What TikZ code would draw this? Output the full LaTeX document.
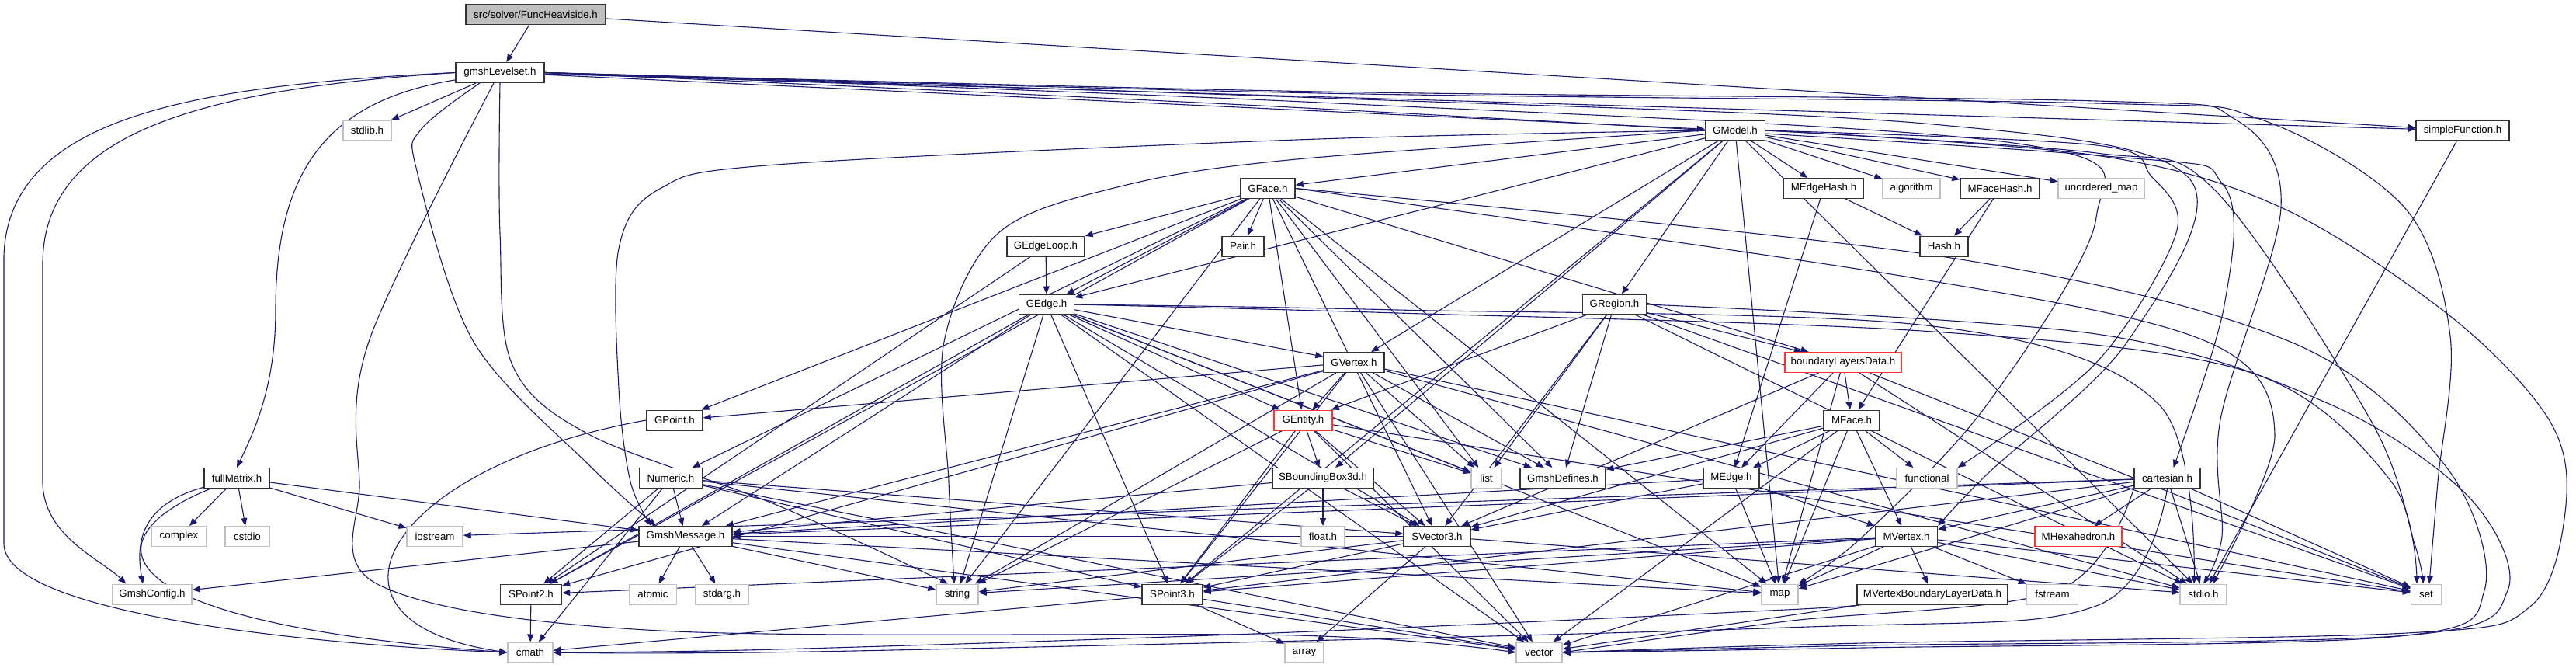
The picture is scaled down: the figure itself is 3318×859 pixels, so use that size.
\documentclass[tikz,border=0pt]{standalone}
\usepackage{fontspec}
\setmainfont{Liberation Sans}
\usetikzlibrary{arrows.meta}
\definecolor{eblue}{HTML}{191970}
\definecolor{gbord}{HTML}{BFBFBF}
\definecolor{rbord}{HTML}{FF3333}
\pgfdeclarelayer{bg}
\pgfdeclarelayer{canvas}
\pgfsetlayers{canvas,bg,main}
\begin{document}
\begin{tikzpicture}[x=1pt,y=-1pt,
 base/.style={rectangle, minimum height=25.6pt, inner sep=0pt, font=\fontsize{13.3}{15}\selectfont, line width=1.4pt, fill=white},
 nb/.style={base, draw=black!80},
 ng/.style={base, draw=gbord},
 nr/.style={base, draw=rbord},
 nroot/.style={base, draw=black!80, fill=gbord},
 e/.style={draw=eblue, line width=1.1pt, -{Triangle[length=10pt,width=8pt]}},
 cv/.style={e, smooth, tension=0.55},
]
\begin{pgfonlayer}{canvas}
\fill[white] (0,0) rectangle (3318,859);
\end{pgfonlayer}
\useasboundingbox (0,0) rectangle (3318,859);
% nodes
\node[nroot, minimum width=180pt] (root) at (690,18.5) {src/solver/FuncHeaviside.h};
\node[nb, minimum width=114pt] (gl) at (644,93.5) {gmshLevelset.h};
\node[ng, minimum width=62pt] (stdlib) at (473,168) {stdlib.h};
\node[nb, minimum width=77pt] (GModel) at (2235,168) {GModel.h};
\node[nb, minimum width=120pt] (simpleFunction) at (3172,168) {simpleFunction.h};
\node[nb, minimum width=70pt] (GFace) at (1633,242.5) {GFace.h};
\node[nb, minimum width=103pt] (MEdgeHash) at (2349,242.5) {MEdgeHash.h};
\node[ng, minimum width=74pt] (algorithm) at (2462,242.5) {algorithm};
\node[nb, minimum width=102pt] (MFaceHash) at (2576,242.5) {MFaceHash.h};
\node[ng, minimum width=111pt] (umap) at (2706.5,242.5) {unordered\_map};
\node[nb, minimum width=100pt] (GEdgeLoop) at (1347,317) {GEdgeLoop.h};
\node[nb, minimum width=54pt] (Pair) at (1601,317) {Pair.h};
\node[nb, minimum width=62pt] (Hash) at (2504,317) {Hash.h};
\node[nb, minimum width=71pt] (GEdge) at (1348,392) {GEdge.h};
\node[nb, minimum width=82pt] (GRegion) at (2079.5,392) {GRegion.h};
\node[nb, minimum width=78pt] (GVertex) at (1744,466.5) {GVertex.h};
\node[nr, minimum width=150pt] (bLD) at (2374,466.5) {boundaryLayersData.h};
\node[nb, minimum width=72pt] (GPoint) at (869,541) {GPoint.h};
\node[nr, minimum width=75pt] (GEntity) at (1678.5,541) {GEntity.h};
\node[nb, minimum width=72pt] (MFace) at (2385,541) {MFace.h};
\node[nb, minimum width=84pt] (fullMatrix) at (305,615.5) {fullMatrix.h};
\node[nb, minimum width=81pt] (Numeric) at (864,615.5) {Numeric.h};
\node[nb, minimum width=130pt] (SBB) at (1704,615.5) {SBoundingBox3d.h};
\node[ng, minimum width=39pt] (list) at (1914.5,615.5) {list};
\node[nb, minimum width=110pt] (GmshDefines) at (2013,615.5) {GmshDefines.h};
\node[nb, minimum width=72pt] (MEdge) at (2230,615.5) {MEdge.h};
\node[ng, minimum width=78pt] (functional) at (2482,615.5) {functional};
\node[nb, minimum width=85pt] (cartesian) at (2791.5,615.5) {cartesian.h};
\node[ng, minimum width=71pt] (complex) at (230.5,690.5) {complex};
\node[ng, minimum width=57pt] (cstdio) at (318.5,690.5) {cstdio};
\node[ng, minimum width=72pt] (iostream) at (560,690.5) {iostream};
\node[nb, minimum width=120pt] (GmshMessage) at (883,690.5) {GmshMessage.h};
\node[ng, minimum width=56pt] (floath) at (1704,690.5) {float.h};
\node[nb, minimum width=86pt] (SVector3) at (1851,690.5) {SVector3.h};
\node[nb, minimum width=80pt] (MVertex) at (2455.5,690.5) {MVertex.h};
\node[nr, minimum width=112pt] (MHex) at (2677,690.5) {MHexahedron.h};
\node[ng, minimum width=102pt] (GmshConfig) at (196,765) {GmshConfig.h};
\node[nb, minimum width=79pt] (SPoint2) at (684,765) {SPoint2.h};
\node[ng, minimum width=61pt] (atomic) at (841,765) {atomic};
\node[ng, minimum width=68pt] (stdarg) at (930,765) {stdarg.h};
\node[ng, minimum width=54pt] (string) at (1233,765) {string};
\node[nb, minimum width=78pt] (SPoint3) at (1510,765) {SPoint3.h};
\node[ng, minimum width=47pt] (map) at (2292.5,765) {map};
\node[nb, minimum width=194pt] (MVBLD) at (2489,765) {MVertexBoundaryLayerData.h};
\node[ng, minimum width=66pt] (fstream) at (2643.5,765) {fstream};
\node[ng, minimum width=60pt] (stdio) at (2838,765) {stdio.h};
\node[ng, minimum width=39pt] (set) at (3125,765) {set};
\node[ng, minimum width=58pt] (cmath) at (683,840) {cmath};
\node[ng, minimum width=50pt] (array) at (1680,840) {array};
\node[ng, minimum width=59pt] (vector) at (1982.5,840) {vector};

\begin{pgfonlayer}{bg}
\foreach \a/\b in {root/gl, root/simpleFunction,
 gl/stdlib, gl/GModel, gl/simpleFunction,
 GModel/GFace, GModel/MEdgeHash, GModel/algorithm, GModel/MFaceHash, GModel/umap, GModel/GRegion, GModel/GVertex, GModel/GEdge, GModel/SPoint3, GModel/SBB, GModel/map, GModel/stdio,
 GFace/GEdgeLoop, GFace/Pair, GFace/GEdge, GFace/GPoint, GFace/Numeric, GFace/GEntity, GFace/list, GFace/string, GFace/map, GFace/GmshDefines, GFace/SPoint2, GFace/SVector3, GFace/bLD,
 GEdgeLoop/GEdge, GEdgeLoop/SPoint2,
 GEdge/GVertex, GEdge/GEntity, GEdge/list, GEdge/string, GEdge/vector, GEdge/GmshDefines, GEdge/SVector3, GEdge/SPoint3, GEdge/SPoint2, GEdge/GmshMessage, GEdge/map,
 GVertex/GEntity, GVertex/GPoint, GVertex/list, GVertex/string, GVertex/vector, GVertex/GmshDefines, GVertex/SPoint2, GVertex/SPoint3, GVertex/stdio, GVertex/set, GVertex/GmshMessage,
 GEntity/list, GEntity/string, GEntity/vector, GEntity/set, GEntity/SBB, GEntity/SVector3, GEntity/SPoint3,
 GRegion/GEntity, GRegion/list, GRegion/GmshDefines, GRegion/bLD, GRegion/stdio, GRegion/SVector3, GRegion/set,
 bLD/MFace, bLD/MEdge, bLD/SVector3, bLD/map, bLD/set, bLD/stdio,
 MFace/functional, MFace/vector, MFace/MVertex, MFace/SVector3, MFace/GmshDefines, MFace/MEdge, MFace/map,
 MEdge/MVertex, MEdge/SVector3, MEdge/GmshMessage, MEdge/map,
 MVertex/stdio, MVertex/set, MVertex/map, MVertex/string, MVertex/vector, MVertex/fstream, MVertex/SPoint2, MVertex/SPoint3, MVertex/MVBLD,
 MVBLD/vector,
 cartesian/MHex, cartesian/MVertex, cartesian/map, cartesian/set, cartesian/stdio, cartesian/GmshMessage, cartesian/iostream, cartesian/SPoint3,
 SVector3/SPoint3, SVector3/array, SVector3/string, SVector3/stdio, SVector3/GmshMessage,
 SPoint3/array, SPoint3/cmath, SPoint3/vector,
 SPoint2/cmath,
 SBB/floath, SBB/SPoint3, SBB/SVector3, SBB/GmshMessage,
 Numeric/cmath, Numeric/GmshMessage, Numeric/SPoint2, Numeric/SPoint3, Numeric/SVector3, Numeric/vector, Numeric/map,
 GmshMessage/GmshConfig, GmshMessage/atomic, GmshMessage/stdarg, GmshMessage/string, GmshMessage/map, GmshMessage/vector,
 fullMatrix/complex, fullMatrix/cstdio, fullMatrix/iostream, fullMatrix/GmshMessage,
 simpleFunction/stdio,
 MEdgeHash/Hash, MEdgeHash/MEdge, MFaceHash/Hash, MFaceHash/MFace}
 \draw[e] (\a) -- (\b);
% curved connectors, left side
\draw[e] (gl.west) .. controls (250,110) and (10,150) .. (5,330) -- (5,700) .. controls (5,790) and (400,830) .. (cmath.west);
\draw[e] (gl.west) .. controls (260,115) and (55,170) .. (55,340) -- (55,620) .. controls (55,690) and (130,720) .. ([xshift=18pt]GmshConfig.north west);
\draw[e] (gl) .. controls (420,130) and (355,220) .. (355,400) .. controls (355,500) and (325,560) .. (fullMatrix.north);
\draw[e] (fullMatrix) .. controls (180,650) and (175,700) .. ([xshift=-12pt]GmshConfig.north);
\draw[e] (fullMatrix) .. controls (120,690) and (110,800) .. (cmath.west);
\draw[e] (GPoint.west) .. controls (500,600) and (380,800) .. (cmath.west);
\draw[cv] plot coordinates {([xshift=-26pt]gl.south) (542,167) (537,220) (610,440) (760,600) ([xshift=-38pt]GmshMessage.north)};
\draw[cv] plot coordinates {([xshift=-8pt]gl.south) (475,440) (463,620) (488,753) (850,812) (1670,818) (vector.west)};
\draw[cv] plot coordinates {(gl.south) (644,300) (660,470) (760,560) (1000,650) ([xshift=-12pt]string.north)};
\draw[cv] plot coordinates {(GModel.west) (1670,205) (1443,240) (1286,300) (1216,440) (1222,620) ([xshift=-4pt]string.north)};
\draw[cv] plot coordinates {(GModel.west) (1670,180) (1000,212) (850,243) (797,320) (797,500) (812,620) ([xshift=-44pt]GmshMessage.north)};
% right side
\draw[cv] plot coordinates {(gl.east) (1700,140) (2700,200) (2863,237) (2865,393) ([xshift=8pt]cartesian.north)};
\draw[cv] plot coordinates {(gl.east) (1700,118) (2700,130) (2878,153) (2938,267) (2860,540) (2862,690) (stdio.north)};
\draw[cv] plot coordinates {(gl.east) (1700,120) (2700,133) (2910,153) (3097,267) (3156,433) (3140,620) ([xshift=4pt]set.north)};
\draw[cv] plot coordinates {(gl.east) (1700,126) (2490,160) (2820,230) (2740,440) (2560,610) (MVertex.north east)};
\draw[cv] plot coordinates {(gl.east) (1700,132) (2600,185) (2700,280) (2560,520) (2400,690) (map.north east)};
\draw[cv] plot coordinates {(GModel.east) (2700,187) (2771,227) (2803,300) (2700,467) (functional.north east)};
\draw[cv] plot coordinates {(GModel.east) (2700,197) (2851,243) (3053,540) (3110,700) ([xshift=-4pt]set.north)};
\draw[cv] plot coordinates {(GModel.east) (2700,200) (2938,267) (3156,407) (3283,540) (3305,650) (3260,780) (3100,815) (2400,828) (vector.east)};
\draw[cv] plot coordinates {(GRegion.east) (2700,430) (3000,520) (3180,640) (3230,760) (3100,818) (2400,831) (vector.east)};
\draw[cv] plot coordinates {(GFace.east) (2500,330) (2950,440) (3150,600) (3200,760) (3080,820) (2400,834) (vector.east)};
\draw[cv] plot coordinates {(GFace.east) (2460,357) (2843,440) (2930,560) ([xshift=12pt]stdio.north)};
\draw[cv] plot coordinates {(GEdge.east) (1800,403) (2490,427) (2900,480) (3080,620) ([xshift=-12pt]set.north)};
\draw[cv] plot coordinates {(GEdge.east) (1800,399) (2490,420) (2780,520) ([xshift=-12pt]stdio.north)};
% bottom
\draw[cv] plot coordinates {(cartesian.south) (2700,780) (2300,808) (1100,838) (cmath.east)};
\draw[cv] plot coordinates {(MVBLD.south west) (2300,785) (1640,815) (1000,836) (cmath.east)};
\draw[cv] plot coordinates {(cartesian.south west) (2650,760) (2300,800) (vector.east)};
\end{pgfonlayer}
\end{tikzpicture}
\end{document}
